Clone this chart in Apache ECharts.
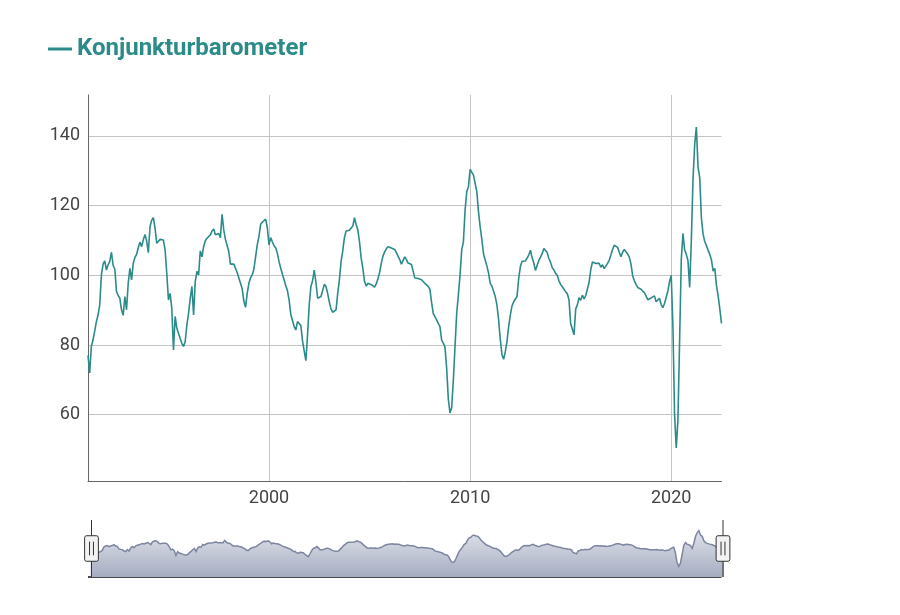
<!DOCTYPE html>
<html>
<head>
<meta charset="utf-8">
<script src="https://cdn.jsdelivr.net/npm/echarts@6/dist/echarts.min.js"></script>
<style>
html,body{margin:0;padding:0;background:#fff;}
#chart{width:900px;height:615px;}
</style>
</head>
<body>
<div id="chart"></div>
<script>
// Monthly values of the KOF Konjunkturbarometer, starting January 1991
const startYear = 1991;
const startMonth = 0; // January
const seriesName = 'Konjunkturbarometer';

const values1991to1999 = [
  77, 72, 79.6, 81.5, 84, 86.7, 88.6, 91.5, 100.1, 103.2, 104.1, 101.5,
  103, 104, 106.6, 102.8, 101.8, 95.3, 94.2, 93.4, 90.1, 88.5, 93.9, 90.1,
  97.7, 102, 98.7, 103.4, 105.1, 106, 107.9, 109.5, 108.2, 110.2, 111.7, 109.8,
  106.5, 113.9, 115.8, 116.5, 113.5, 109.2, 108.7, 110.3, 110.1, 110.1, 107.3, 100.6,
  92.9, 94.8, 90.5, 78.6, 88.2, 84.8, 83.4, 81.9, 80.5, 79.6, 81, 85.8,
  89.1, 93.4, 96.8, 88.6, 98.2, 101.1, 100.1, 107, 105.3, 108.2, 109.9, 110.6,
  110.8, 111.6, 112.7, 113.3, 111.6, 111.2, 112, 110.8, 117.5, 113, 110.3, 110,
  106.8, 103.2, 102.7, 103.2, 102.7, 100.8, 100.9, 97.7, 96.1, 92.6, 90.8, 94.8,
  97.7, 99.3, 100.1, 101.8, 105.3, 108.7, 111.1, 114.6, 115.2, 114.9, 116.1, 113.7
];
const values2000to2009 = [
  108.7, 110.8, 109.6, 108.5, 107.9, 106.3, 103.9, 102, 100.3, 98.7, 97, 95.6,
  92.9, 88.8, 89.1, 85.3, 84.3, 86.7, 86.2, 85.6, 81.2, 78.3, 75.5, 82.9,
  91.5, 96.8, 98.4, 101.5, 98, 93.4, 93.4, 93.9, 95.6, 97.4, 96.8, 94.8,
  92.3, 90.3, 89.4, 89.1, 90.1, 94.8, 98.7, 103.9, 107, 110.8, 112.7, 112.5,
  112.9, 113.3, 114.1, 116.5, 114.5, 113, 109.6, 104.9, 102, 98.2, 96.9, 97.7,
  97.7, 97.3, 97.5, 96.6, 97.5, 99, 100.8, 103.4, 105.5, 106.7, 107.6, 108.2,
  108.6, 107.8, 108.1, 107.4, 107.6, 105.5, 104.5, 103.2, 103.7, 105.3, 104.5, 103.5,
  103.9, 103.1, 101.2, 99.2, 98.7, 99.1, 99.1, 98.7, 98.2, 97.7, 97.2, 96.8,
  96, 92.2, 89.1, 89, 87.2, 86.2, 85.3, 81.5, 80.5, 79.4, 73.4, 64.5,
  60.5, 62, 70, 79.6, 89.1, 94.4, 100.1, 107.3, 109.6, 118.7, 124, 125.4
];
const values2010to2019 = [
  130.4, 130.7, 128.7, 128.3, 124, 118.2, 113.9, 110.3, 106.1, 104.4, 102.7, 100.6,
  97.7, 96.9, 96.8, 93.9, 91.5, 87.2, 81.7, 77.2, 75.9, 78.1, 81, 85.3,
  88.6, 91.2, 92.4, 92.2, 93.9, 99.1, 102.5, 104, 103.6, 104.1, 103.6, 105.8,
  107.2, 105, 103.5, 101.4, 101.5, 104.3, 105.2, 106.2, 107.7, 108, 106.5, 104.8,
  103.7, 102.2, 101.5, 100.6, 100, 98.4, 97.4, 96.7, 96, 95.3, 94.7, 93,
  86.1, 84.6, 82.9, 90.3, 91.5, 93.6, 92.8, 94.3, 93.2, 94.2, 94.7, 98,
  101.6, 103.8, 103.9, 103.4, 102.9, 103.4, 102.3, 103, 101.9, 102.3, 103.4, 104.3,
  105.8, 107.4, 108.6, 108.7, 108, 106.6, 105.3, 106.6, 107.4, 107.1, 106.1, 105.2,
  103.2, 99.8, 98.4, 97.4, 96.5, 96, 96, 96.1, 95, 94, 93, 93.1,
  93.5, 93.2, 94.1, 92.4, 92.3, 93.4, 91.6, 90.7, 91.9, 91.8, 95.5, 98.2
];
const values2020to2022 = [
  100, 85.5, 60, 50.5, 58.5, 81, 104.5, 112, 107.3, 106, 104.2, 96.5,
  110, 127.5, 137.5, 142.5, 131, 128, 116.5, 111.8, 109.7, 108.5, 107.2, 106,
  104.4, 101.2, 102, 97, 94.1, 90.3, 86.2
];

const xTickYears = [2000, 2010, 2020];
const yTicks = [60, 80, 100, 120, 140];
const yMin = 41;
const yMax = 151.7;

const allValues = [].concat(values1991to1999, values2000to2009, values2010to2019, values2020to2022);
// x position = calendar year as a decimal (month i of the series)
const seriesData = allValues.map(function (v, i) {
  return [startYear + (startMonth + i) / 12, v];
});
const xMin = seriesData[0][0];
const xMax = seriesData[seriesData.length - 1][0];

const teal = '#2b8b89';
const font = 'Roboto, "Noto Sans", sans-serif';

const chart = echarts.init(document.getElementById('chart'), null, {renderer: 'canvas'});

const handlePath = 'path://M7 0 L7 16 M2 16 L12 16 Q14 16 14 18 L14 40 Q14 42 12 42 L2 42 Q0 42 0 40 L0 18 Q0 16 2 16 Z M5 22 L5 36 M9 22 L9 36 M7 42 L7 58';

const navArea = new echarts.graphic.LinearGradient(0, 0, 0, 1, [
  {offset: 0, color: '#a6acc1'},
  {offset: 1, color: '#dfe2ea'}
]);

chart.setOption({
  animation: false,
  backgroundColor: '#ffffff',
  legend: {
    left: 43,
    top: 32,
    icon: 'rect',
    itemWidth: 24,
    itemHeight: 3,
    selectedMode: false,
    textStyle: {
      color: teal,
      fontSize: 24,
      fontWeight: 'bold',
      fontFamily: font
    },
    data: [seriesName]
  },
  grid: {
    left: 88,
    right: 178.5,
    top: 95,
    bottom: 134,
    containLabel: false
  },
  xAxis: {
    type: 'value',
    min: xMin,
    max: xMax,
    axisLine: {show: true, onZero: false, lineStyle: {color: '#666666', width: 1}},
    axisTick: {show: false, customValues: xTickYears},
    axisLabel: {
      customValues: xTickYears,
      formatter: function (v) { return String(Math.round(v)); },
      color: '#444444',
      fontSize: 18,
      fontFamily: font,
      margin: 8
    },
    splitLine: {show: true, lineStyle: {color: '#c4c4c4', width: 1}}
  },
  yAxis: {
    type: 'value',
    min: yMin,
    max: yMax,
    axisLine: {show: true, onZero: false, lineStyle: {color: '#666666', width: 1}},
    axisTick: {show: false, customValues: yTicks},
    axisLabel: {
      customValues: yTicks,
      color: '#444444',
      fontSize: 18,
      fontFamily: font,
      margin: 8
    },
    splitLine: {show: true, lineStyle: {color: '#c4c4c4', width: 1}}
  },
  dataZoom: [{
    type: 'slider',
    xAxisIndex: 0,
    start: 0,
    end: 100,
    left: 88,
    right: 178.5,
    top: 520,
    height: 57,
    showDetail: false,
    brushSelect: false,
    moveHandleSize: 0,
    borderColor: 'transparent',
    backgroundColor: 'transparent',
    fillerColor: 'rgba(0,0,0,0)',
    handleIcon: handlePath,
    handleSize: '100%',
    handleStyle: {color: '#f2f2f2', borderColor: '#333333', borderWidth: 1},
    emphasis: {handleStyle: {color: '#f2f2f2', borderColor: '#333333'}},
    dataBackground: {
      lineStyle: {color: '#7d859f', width: 1.5, opacity: 1},
      areaStyle: {color: navArea, opacity: 1}
    },
    selectedDataBackground: {
      lineStyle: {color: '#7d859f', width: 1.5, opacity: 1},
      areaStyle: {color: navArea, opacity: 1}
    }
  }],
  graphic: [{
    type: 'rect',
    left: 88,
    top: 576,
    shape: {width: 633.5, height: 2},
    style: {fill: '#4a4a4a'},
    silent: true
  }],
  series: [{
    name: seriesName,
    type: 'line',
    data: seriesData,
    showSymbol: false,
    symbol: 'none',
    sampling: 'none',
    lineStyle: {color: teal, width: 1.6},
    itemStyle: {color: teal}
  }]
});
</script>
</body>
</html>
